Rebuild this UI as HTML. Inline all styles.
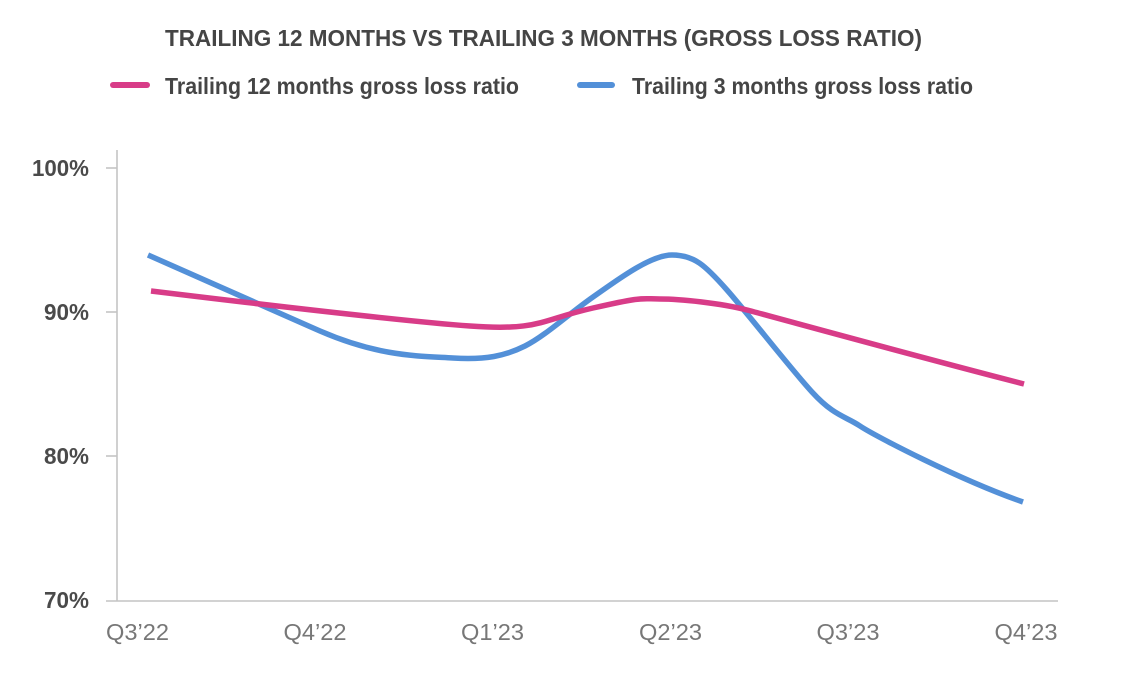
<!DOCTYPE html>
<html>
<head>
<meta charset="utf-8">
<style>
  html,body{margin:0;padding:0;background:#ffffff;}
  svg{display:block;}
  text{font-family:"Liberation Sans", Arial, sans-serif;}
</style>
</head>
<body>
<svg width="1126" height="693" viewBox="0 0 1126 693" xmlns="http://www.w3.org/2000/svg">
  <rect width="1126" height="693" fill="#ffffff"/>

  <!-- Title -->
  <text x="165" y="46" font-size="23.5" font-weight="bold" fill="#454545" textLength="757" lengthAdjust="spacingAndGlyphs">TRAILING 12 MONTHS VS TRAILING 3 MONTHS (GROSS LOSS RATIO)</text>

  <!-- Legend -->
  <line x1="113" y1="85" x2="147" y2="85" stroke="#d83c88" stroke-width="6" stroke-linecap="round"/>
  <text x="165" y="94" font-size="23.5" font-weight="bold" fill="#454545" textLength="354" lengthAdjust="spacingAndGlyphs">Trailing 12 months gross loss ratio</text>
  <line x1="580" y1="85" x2="612" y2="85" stroke="#5390d8" stroke-width="6" stroke-linecap="round"/>
  <text x="632" y="94" font-size="23.5" font-weight="bold" fill="#454545" textLength="341" lengthAdjust="spacingAndGlyphs">Trailing 3 months gross loss ratio</text>

  <!-- Axes -->
  <line x1="117" y1="150" x2="117" y2="601" stroke="#c4c4c4" stroke-width="1.6"/>
  <line x1="106" y1="601" x2="1058" y2="601" stroke="#c4c4c4" stroke-width="1.6"/>
  <line x1="106" y1="168" x2="117" y2="168" stroke="#c4c4c4" stroke-width="1.6"/>
  <line x1="106" y1="312" x2="117" y2="312" stroke="#c4c4c4" stroke-width="1.6"/>
  <line x1="106" y1="456" x2="117" y2="456" stroke="#c4c4c4" stroke-width="1.6"/>

  <!-- Y labels -->
  <g font-size="23" font-weight="bold" fill="#4a4a4a" text-anchor="end">
    <text x="89" y="176" textLength="57" lengthAdjust="spacingAndGlyphs">100%</text>
    <text x="89" y="320" textLength="45" lengthAdjust="spacingAndGlyphs">90%</text>
    <text x="89" y="464" textLength="45" lengthAdjust="spacingAndGlyphs">80%</text>
    <text x="89" y="608" textLength="45" lengthAdjust="spacingAndGlyphs">70%</text>
  </g>

  <!-- X labels -->
  <g font-size="23.5" fill="#777777" text-anchor="middle">
    <text x="137.5" y="640" textLength="63" lengthAdjust="spacingAndGlyphs">Q3’22</text>
    <text x="315" y="640" textLength="63" lengthAdjust="spacingAndGlyphs">Q4’22</text>
    <text x="492.5" y="640" textLength="63" lengthAdjust="spacingAndGlyphs">Q1’23</text>
    <text x="670.5" y="640" textLength="63" lengthAdjust="spacingAndGlyphs">Q2’23</text>
    <text x="848" y="640" textLength="63" lengthAdjust="spacingAndGlyphs">Q3’23</text>
    <text x="1026" y="640" textLength="63" lengthAdjust="spacingAndGlyphs">Q4’23</text>
  </g>

  <!-- Blue series: trailing 3 months -->
  <path fill="none" stroke="#5390d8" stroke-width="5.5" stroke-linejoin="round"
    d="M148,255 C200,278 260,305 320,331 S420,356 453,358 S505,356 525,346 S570,313 593,297 S650,255 672,255 S705,265 727,290 S790,368 812,392 S845,416 860,426 S960,480 1023,502"/>

  <!-- Pink series: trailing 12 months -->
  <path fill="none" stroke="#d83c88" stroke-width="5.5" stroke-linejoin="round"
    d="M151,291 C250,303 400,321 470,326 S540,320 593,308 S640,299 660,299 S720,303 747,310 S900,352 1024,384"/>
</svg>
</body>
</html>
